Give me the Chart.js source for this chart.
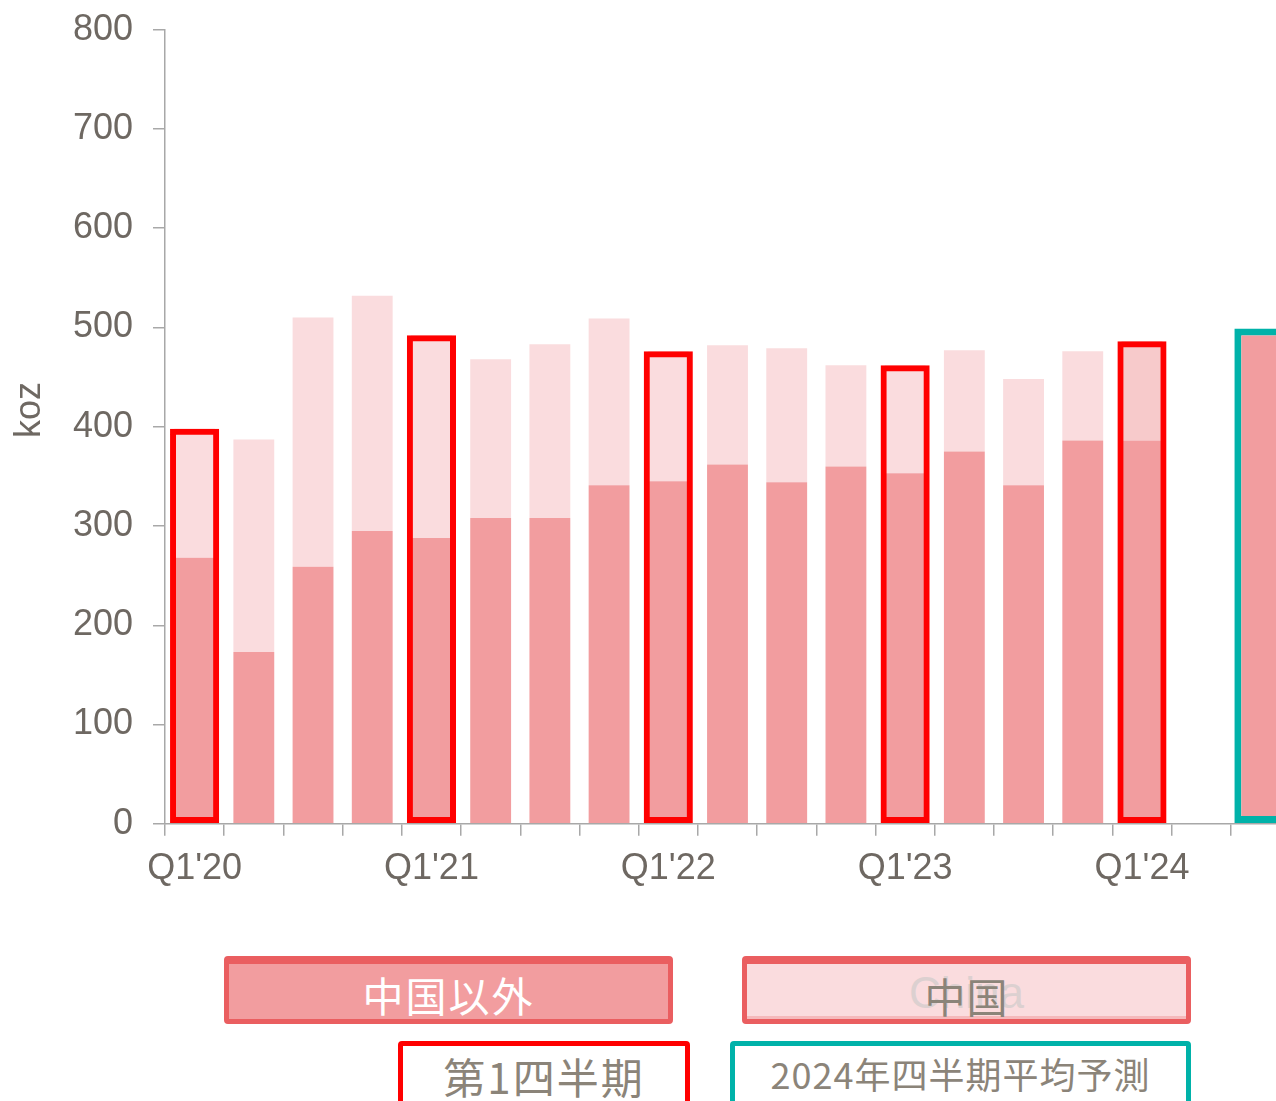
<!DOCTYPE html>
<html>
<head>
<meta charset="utf-8">
<script src="https://cdn.jsdelivr.net/npm/chart.js@4/dist/chart.umd.min.js"></script>
<style>
  html, body { margin: 0; padding: 0; background: #fff; overflow: hidden; width: 1276px; height: 1101px; }
  #wrap { position: relative; width: 1300px; height: 1101px; overflow: hidden; }
  #c { position: absolute; left: 0; top: -12px; }
  .box { position: absolute; box-sizing: border-box; border-radius: 4px; }
  .txt { position: absolute; text-align: center; white-space: nowrap; font-family: "Noto Sans CJK JP", "Noto Sans", sans-serif; }
  #ytitle { position: absolute; left: 28px; top: 410px; transform: translate(-50%, -50%) rotate(-90deg);
            font-family: 'Liberation Sans', Arial, sans-serif; font-size: 36px; line-height: 36px; color: #6E6862; white-space: nowrap; }
</style>
</head>
<body>
<div id="wrap">
  <canvas id="c" width="1300" height="925"></canvas>
  <div id="ytitle">koz</div>

  <div class="box" style="left:224px;top:956px;width:449px;height:68px;background:#F29D9F;border:5px solid #EA5E60;border-top-width:8px;"></div>
  <div class="txt" style="left:224px;width:449px;top:974px;font-size:41px;line-height:41px;color:#fff;letter-spacing:2px;">中国以外</div>

  <div class="box" style="left:742px;top:956px;width:449px;height:68px;background:#FADCDE;border:5px solid #EA5E60;border-top-width:8px;box-shadow: inset 0 -3px 0 #F5B9BB;"></div>
  <div class="txt" style="left:742px;width:449px;top:971px;font-size:44px;line-height:44px;color:#DCD0D0;font-family:'Liberation Sans',Arial,sans-serif;">China</div>
  <div class="txt" style="left:742px;width:449px;top:975px;font-size:41px;line-height:41px;color:#8B8479;letter-spacing:1px;">中国</div>

  <div class="box" style="left:398px;top:1041px;width:292px;height:90px;background:#fff;border:5px solid #FF0000;"></div>
  <div class="txt" style="left:398px;width:292px;top:1055px;font-size:42px;line-height:42px;color:#8B8479;letter-spacing:2px;">第1四半期</div>

  <div class="box" style="left:730px;top:1041px;width:461px;height:90px;background:#fff;border:5px solid #00B2A9;"></div>
  <div class="txt" style="left:730px;width:461px;top:1055px;font-size:36px;line-height:36px;color:#8B8479;letter-spacing:1px;">2024年四半期平均予測</div>
</div>
<script>
// ---- data ----
const categories = ["Q1'20","Q2'20","Q3'20","Q4'20","Q1'21","Q2'21","Q3'21","Q4'21","Q1'22","Q2'22","Q3'22","Q4'22","Q1'23","Q2'23","Q3'23","Q4'23","Q1'24","","2024F"];
const nonChina = [268,173,259,295,288,308,308,341,345,362,344,360,353,375,341,386,386,null,null];
const china    = [130,214,251,237,204,160,175,168,131,120,135,102,109,102,107, 90,100,null,null];
const forecast2024 = [null,null,null,null,null,null,null,null,null,null,null,null,null,null,null,null,null,null,499];
const yTicks = [0,100,200,300,400,500,600,700,800];

const q1Boxes = categories.map((c, i) => c.startsWith("Q1") ? nonChina[i] + china[i] : null);
const chinaColors = categories.map((c, i) => i === 16 ? '#F7CACB' : '#FADCDE');

const axisColor = '#A8A8A8';
const tickColor = '#6E6862';
const tickFont = { family: "'Liberation Sans', Arial, sans-serif", size: 36 };

new Chart(document.getElementById('c'), {
  type: 'bar',
  data: {
    labels: categories,
    datasets: [
      { label: 'Q1', data: q1Boxes, stack: 'h', order: 0, grouped: false,
        backgroundColor: 'rgba(0,0,0,0)', borderColor: '#FF0000', borderWidth: 6, borderSkipped: false,
        barPercentage: 0.83, categoryPercentage: 1 },
      { label: 'forecast', data: forecast2024, stack: 'f', order: 0, grouped: false,
        backgroundColor: '#F29D9F', borderColor: '#00B2A9', borderWidth: 7, borderSkipped: false,
        barPercentage: 0.88, categoryPercentage: 1 },
      { label: '中国以外', data: nonChina, stack: 's', order: 1, grouped: false,
        backgroundColor: '#F29D9F', borderWidth: 0, barPercentage: 0.69, categoryPercentage: 1 },
      { label: '中国', data: china, stack: 's', order: 1, grouped: false,
        backgroundColor: chinaColors, borderWidth: 0, barPercentage: 0.69, categoryPercentage: 1 }
    ]
  },
  options: {
    responsive: false,
    animation: false,
    layout: { padding: { left: 6, top: 6, right: 10, bottom: 10 } },
    plugins: { legend: { display: false }, tooltip: { enabled: false } },
    scales: {
      x: {
        stacked: true,
        grid: { display: true, drawOnChartArea: false, drawTicks: true, tickLength: 12, color: axisColor, lineWidth: 1.5, offset: true },
        border: { display: true, color: axisColor, width: 1.5 },
        ticks: { autoSkip: false, maxRotation: 0, minRotation: 0, padding: 12, color: tickColor, font: tickFont,
          callback: function(v, i) { const l = categories[i]; return l.startsWith("Q1") ? l : ''; } }
      },
      y: {
        stacked: true,
        min: 0, max: 800,
        afterBuildTicks: (s) => { s.ticks = yTicks.map(v => ({ value: v })); },
        afterFit: (s) => { s.width = 159; },
        grid: { display: true, drawOnChartArea: false, drawTicks: true, tickLength: 12, color: axisColor, lineWidth: 1.5 },
        border: { display: true, color: axisColor, width: 1.5 },
        ticks: { padding: 20, color: tickColor, font: tickFont },
        title: { display: false }
      }
    }
  }
});
</script>
</body>
</html>
